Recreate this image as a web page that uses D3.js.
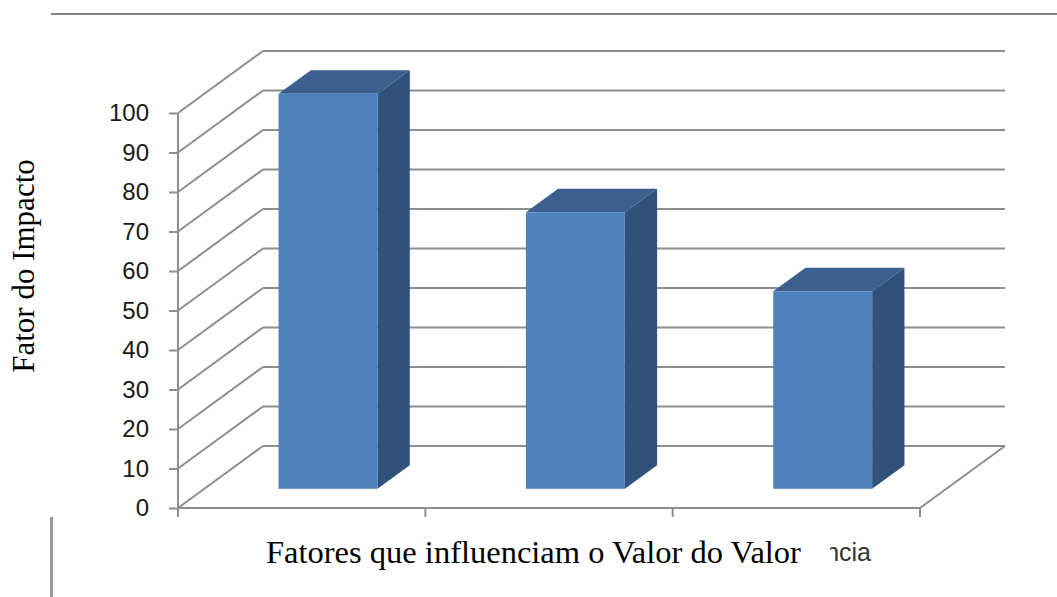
<!DOCTYPE html>
<html>
<head>
<meta charset="utf-8">
<script src="https://cdn.jsdelivr.net/npm/d3@7"></script>
<style>
  html, body { margin: 0; padding: 0; background: #fff; }
  svg { display: block; }
</style>
</head>
<body>
<svg id="chart" width="1057" height="597"></svg>
<script>
// ---- data ----
const categories = ["Fator 1", "Fator 2", "Fator 3"];
const values = [100, 70, 50];
const yTicks = [0, 10, 20, 30, 40, 50, 60, 70, 80, 90, 100];
const yTitle = "Fator do Impacto";
const xTitle = "Fatores que influenciam o Valor do Valor";
const clippedLabel = "ncia";

// ---- layout ----
const svg = d3.select("#chart");
const W = 1057, H = 597;
const x0 = 178, x1 = 920;      // front floor edge
const depthX = 85, depthY = -62; // 3D depth offset
const gridColor = "#8e8e8e";

const y = d3.scaleLinear().domain([0, 100]).range([508, 113]);
const x = d3.scaleBand().domain(categories).range([x0, x1]).padding(0);

// page decoration lines
svg.append("line").attr("x1", 51).attr("x2", W).attr("y1", 14).attr("y2", 14)
  .attr("stroke", "#858585").attr("stroke-width", 2);
svg.append("line").attr("x1", 51.5).attr("x2", 51.5).attr("y1", 517).attr("y2", H)
  .attr("stroke", "#999").attr("stroke-width", 3);

const g = svg.append("g");

// back wall gridlines + side wall diagonals
yTicks.forEach(t => {
  const yy = y(t);
  g.append("line")
    .attr("x1", x0 + depthX).attr("x2", x1 + depthX)
    .attr("y1", yy + depthY).attr("y2", yy + depthY)
    .attr("stroke", gridColor).attr("stroke-width", 2);
  g.append("line")
    .attr("x1", x0).attr("x2", x0 + depthX)
    .attr("y1", yy).attr("y2", yy + depthY)
    .attr("stroke", gridColor).attr("stroke-width", 2);
});

// floor front edge and right edge
g.append("line").attr("x1", x0).attr("x2", x1).attr("y1", y(0)).attr("y2", y(0))
  .attr("stroke", gridColor).attr("stroke-width", 2);
g.append("line").attr("x1", x1).attr("x2", x1 + depthX).attr("y1", y(0)).attr("y2", y(0) + depthY)
  .attr("stroke", gridColor).attr("stroke-width", 2);

// y axis (front left vertical)
g.append("line").attr("x1", x0).attr("x2", x0).attr("y1", y(100)).attr("y2", y(0) + 8)
  .attr("stroke", gridColor).attr("stroke-width", 2);
const yAxis = d3.axisLeft(y).tickValues(yTicks).tickSize(9).tickPadding(20);
const yAxisG = g.append("g").attr("transform", `translate(${x0},0)`).call(yAxis);
yAxisG.select(".domain").remove();
yAxisG.selectAll(".tick line").attr("stroke", gridColor).attr("stroke-width", 2);
yAxisG.selectAll(".tick text")
  .attr("font-family", "'Liberation Sans', Arial, sans-serif")
  .attr("font-size", 24).attr("fill", "#1a1a1a");

// x axis ticks (category boundaries)
const xBounds = categories.map(c => x(c)).concat([x1]);
g.selectAll(".xtick").data(xBounds).enter().append("line")
  .attr("x1", d => d).attr("x2", d => d)
  .attr("y1", y(0)).attr("y2", y(0) + 9)
  .attr("stroke", gridColor).attr("stroke-width", 2);

// bars (3D)
const fFront = 0.31, fBack = 0.69;
const barW = x.bandwidth() / 2.5;
const colFront = "#4f81bd", colTop = "#3b5f8e", colSide = "#30527a";
categories.forEach((c, i) => {
  const cx = x(c) + x.bandwidth() / 2;
  const fx = cx - barW / 2 + fFront * depthX;
  const fy0 = y(0) + fFront * depthY;
  const fyT = y(values[i]) + fFront * depthY;
  const ddx = (fBack - fFront) * depthX, ddy = (fBack - fFront) * depthY;
  const bar = g.append("g");
  // side face
  bar.append("polygon")
    .attr("points", [[fx + barW, fyT], [fx + barW + ddx, fyT + ddy], [fx + barW + ddx, fy0 + ddy], [fx + barW, fy0]].map(p => p.join(",")).join(" "))
    .attr("fill", colSide);
  // top face
  bar.append("polygon")
    .attr("points", [[fx, fyT], [fx + ddx, fyT + ddy], [fx + barW + ddx, fyT + ddy], [fx + barW, fyT]].map(p => p.join(",")).join(" "))
    .attr("fill", colTop);
  // front face
  bar.append("rect")
    .attr("x", fx).attr("y", fyT).attr("width", barW).attr("height", fy0 - fyT)
    .attr("fill", colFront);
});

// clipped category label fragment
svg.append("text").attr("x", 871).attr("y", 561).attr("text-anchor", "end")
  .attr("font-family", "'Liberation Sans', Arial, sans-serif")
  .attr("font-size", 25).attr("fill", "#333").text(clippedLabel);
svg.append("rect").attr("x", 262).attr("y", 530).attr("width", 568).attr("height", 40).attr("fill", "#fff");

// axis titles
svg.append("text").attr("x", 266).attr("y", 563)
  .attr("font-family", "'Liberation Serif', 'Times New Roman', serif")
  .attr("font-size", 32.5).attr("fill", "#000").text(xTitle);
svg.append("text")
  .attr("transform", "translate(34,266) rotate(-90)")
  .attr("text-anchor", "middle")
  .attr("font-family", "'Liberation Serif', 'Times New Roman', serif")
  .attr("font-size", 31).attr("fill", "#000").text(yTitle);
</script>
</body>
</html>
